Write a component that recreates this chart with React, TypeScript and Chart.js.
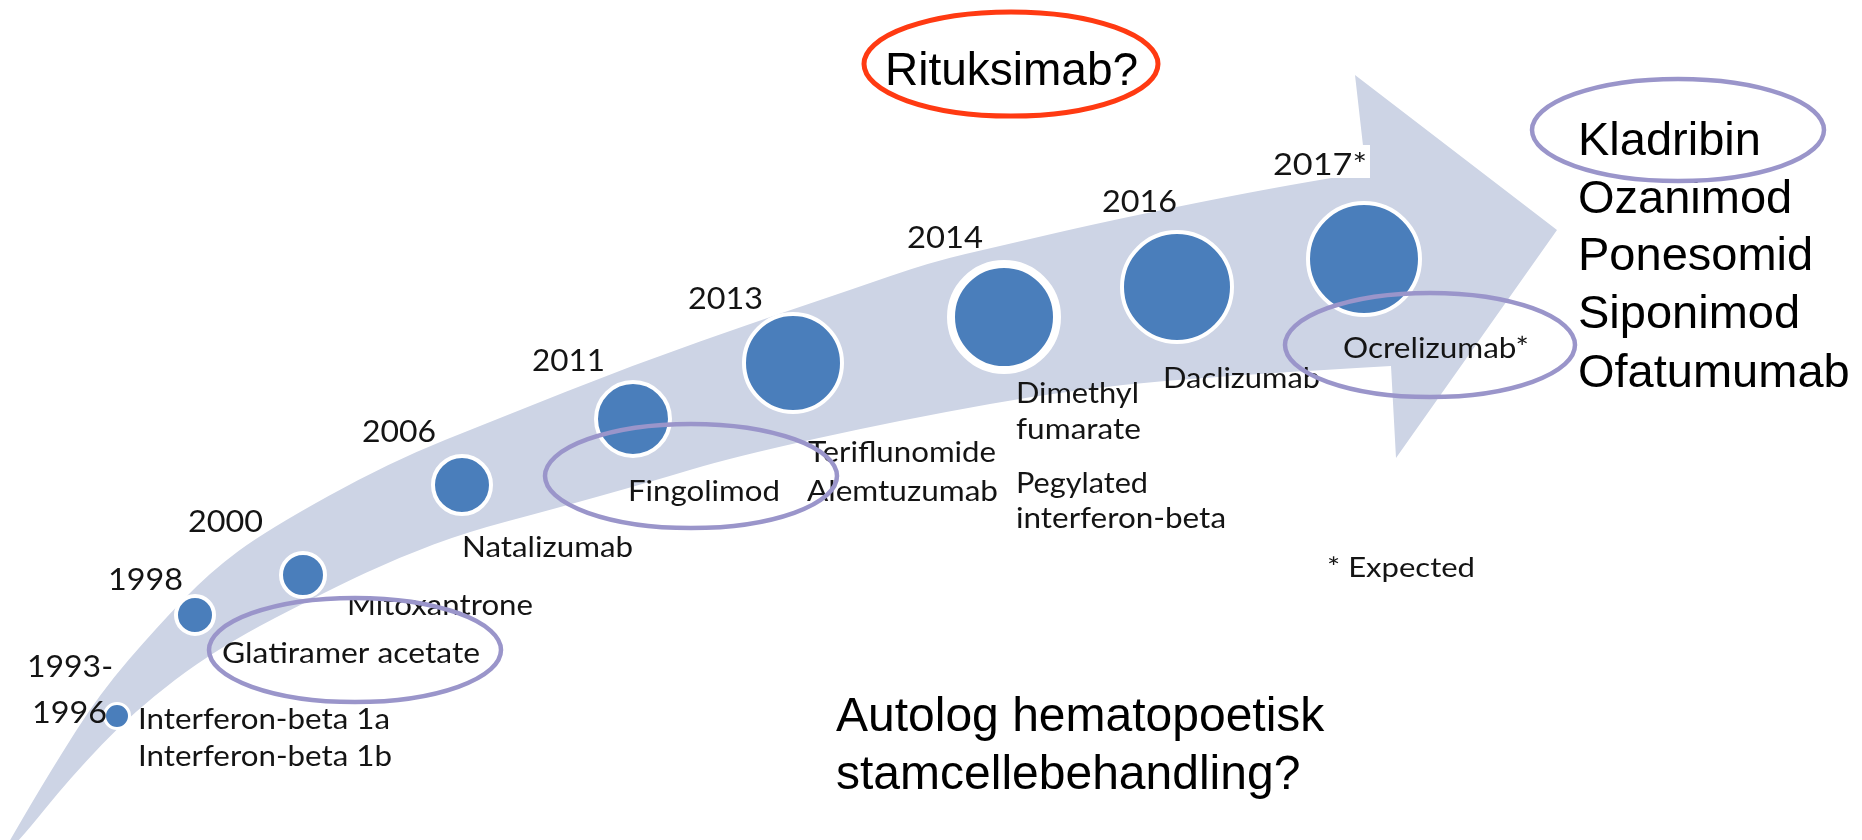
import React, { useEffect, useRef } from "react";
import { Chart, registerables } from "chart.js";

Chart.register(...registerables);

const W = 1862;
const H = 840;

// Timeline bubbles (value space = picture space of hidden axes)
const bubbleYears = ["1993-1996", "1998", "2000", "2006", "2011", "2013", "2014", "2016", "2017"];
const bubbleX = [117, 195, 303, 462, 633, 793, 1004, 1177, 1364];
const bubbleY = [716, 615, 575, 485, 419, 363, 317, 287, 259];
const bubbleR = [12.5, 19, 22, 29, 37, 49, 53, 55, 56];
const bubbleBorder = [3, 4, 4, 4, 4, 4, 8, 4, 4];

// Year labels
const yearLabels = ["1993-", "1996", "1998", "2000", "2006", "2011", "2013", "2014", "2016", "2017*"];
const yearX = [27, 32, 108, 188, 362, 532, 688, 907, 1102, 1273];
const yearY = [677, 723, 590, 532, 442, 371, 309, 248, 212, 175];
const yearW = [86, 75, 75, 75, 74, 73, 75, 76, 75, 94];

// Drug labels
const drugLabels = [
  "Interferon-beta 1a", "Interferon-beta 1b", "Glatiramer acetate", "Natalizumab",
  "Fingolimod", "Alemtuzumab", "Dimethyl", "fumarate", "Pegylated", "interferon-beta",
  "Daclizumab", "Ocrelizumab*", "* Expected",
];
const drugX = [138, 138, 222, 462, 628, 807, 1016, 1016, 1016, 1016, 1163, 1343, 1327];
const drugY = [729, 766, 663, 557, 501, 501, 403, 439, 493, 528, 388, 358, 577];
const drugW = [252, 254, 258, 171, 152, 191, 123, 125, 132, 210, 157, 186, 148];

// Labels lying under the arrow band
const underLabels = ["Mitoxantrone", "Teriflunomide"];
const underX = [347, 808];
const underY = [615, 462];
const underW = [186, 188];
const mitoxClip = [433, 600];

// Future candidates list
const futureLabels = ["Kladribin", "Ozanimod", "Ponesomid", "Siponimod", "Ofatumumab"];
const futureX = 1578;
const futureY = [155, 213, 270, 328, 387];

// Other big texts
const bigLabels = ["Rituksimab?", "Autolog hematopoetisk", "stamcellebehandling?"];
const bigX = [885, 836, 836];
const bigY = [85, 731, 789];
const bigSize = [46, 48, 48];

// Highlight ellipses
const ellipseCX = [355, 691, 1430, 1678, 1011];
const ellipseCY = [650, 476, 345, 130, 64];
const ellipseRX = [146, 146, 145, 146, 147];
const ellipseRY = [52, 52, 52, 51, 52];
const ellipseColor = ["#9A95CA", "#9A95CA", "#9A95CA", "#9A95CA", "#FF3A12"];

// Arrow band outline
const bandUpper: [number, number][] = [
  [0, 858], [10, 840], [50, 772], [100, 693], [157, 627], [210, 572], [267, 530],
  [390, 462], [500, 418], [633, 365], [767, 318], [850, 290], [931, 262],
  [1000, 246], [1103, 222], [1250, 192], [1366, 172],
];
const bandLower: [number, number][] = [
  [0, 858], [20, 840], [70, 778], [133, 712], [217, 648], [333, 588], [400, 557],
  [467, 532], [550, 510], [650, 482], [733, 457], [900, 420], [1080, 388],
  [1250, 374], [1391, 366],
];
const arrowHead: [number, number][] = [[1355, 75], [1557, 230], [1396, 458]];
const box2017 = [1268, 145, 1370, 178];

const LABEL_FONT = "Lato, 'Open Sans', sans-serif";
const ARIAL = "'Liberation Sans', Arial, sans-serif";

function drawText(ctx: CanvasRenderingContext2D, s: string, x: number, y: number, font: string, targetW?: number) {
  ctx.font = font;
  const w = ctx.measureText(s).width;
  const sx = targetW ? targetW / w : 1;
  ctx.save();
  ctx.translate(x, y);
  ctx.scale(sx, 1);
  ctx.fillText(s, 0, 0);
  ctx.restore();
}

export default function App() {
  const ref = useRef<HTMLCanvasElement | null>(null);

  useEffect(() => {
    document.body.style.margin = "0";
    document.body.style.overflow = "hidden";
    let chart: Chart | null = null;
    let cancelled = false;

    const px = (c: any, v: number) => c.scales.x.getPixelForValue(v);
    const py = (c: any, v: number) => c.scales.y.getPixelForValue(v);

    const decor = {
      id: "decor",
      beforeDatasetsDraw(c: any) {
        const ctx: CanvasRenderingContext2D = c.ctx;
        ctx.save();
        ctx.fillStyle = "#141414";
        ctx.textBaseline = "alphabetic";
        // labels under band
        underLabels.forEach((s, i) => {
          ctx.save();
          if (i === 0) {
            ctx.beginPath();
            ctx.rect(0, py(c, mitoxClip[1]), W, H);
            ctx.rect(px(c, mitoxClip[0]), 0, W, H);
            ctx.clip();
          }
          drawText(ctx, s, px(c, underX[i]), py(c, underY[i]), `28px ${LABEL_FONT}`, underW[i]);
          ctx.restore();
        });
        // band
        ctx.beginPath();
        const P = (p: [number, number]) => [px(c, p[0]), py(c, p[1])];
        const smooth = (pts: [number, number][], first: boolean) => {
          const q = pts.map(P);
          if (first) ctx.moveTo(q[0][0], q[0][1]);
          else ctx.lineTo(q[0][0], q[0][1]);
          for (let i = 1; i < q.length - 1; i++) {
            const mx = (q[i][0] + q[i + 1][0]) / 2;
            const my = (q[i][1] + q[i + 1][1]) / 2;
            ctx.quadraticCurveTo(q[i][0], q[i][1], mx, my);
          }
          ctx.lineTo(q[q.length - 1][0], q[q.length - 1][1]);
        };
        smooth(bandUpper, true);
        arrowHead.forEach((p) => {
          const q = P(p);
          ctx.lineTo(q[0], q[1]);
        });
        smooth([...bandLower].reverse(), false);
        ctx.closePath();
        ctx.fillStyle = "#CDD4E5";
        ctx.fill();
        ctx.restore();
      },
      afterDatasetsDraw(c: any) {
        const ctx: CanvasRenderingContext2D = c.ctx;
        ctx.save();
        // white box behind 2017*
        ctx.fillStyle = "#ffffff";
        ctx.fillRect(px(c, box2017[0]), py(c, box2017[1]), px(c, box2017[2]) - px(c, box2017[0]), py(c, box2017[3]) - py(c, box2017[1]));
        ctx.fillStyle = "#141414";
        ctx.textBaseline = "alphabetic";
        yearLabels.forEach((s, i) => drawText(ctx, s, px(c, yearX[i]), py(c, yearY[i]), `31px ${LABEL_FONT}`, yearW[i]));
        drugLabels.forEach((s, i) => {
          const size = s === "* Expected" ? 27 : 28;
          drawText(ctx, s, px(c, drugX[i]), py(c, drugY[i]), `${size}px ${LABEL_FONT}`, drugW[i]);
        });
        ctx.fillStyle = "#000000";
        futureLabels.forEach((s, i) => drawText(ctx, s, px(c, futureX), py(c, futureY[i]), `47px ${ARIAL}`));
        bigLabels.forEach((s, i) => drawText(ctx, s, px(c, bigX[i]), py(c, bigY[i]), `${bigSize[i]}px ${ARIAL}`));
        // ellipses
        ellipseCX.forEach((cx, i) => {
          ctx.beginPath();
          const x0 = px(c, cx);
          const y0 = py(c, ellipseCY[i]);
          const rx = px(c, cx + ellipseRX[i]) - x0;
          const ry = Math.abs(py(c, ellipseCY[i] + ellipseRY[i]) - y0);
          ctx.ellipse(x0, y0, rx, ry, 0, 0, Math.PI * 2);
          ctx.strokeStyle = ellipseColor[i];
          ctx.lineWidth = i === 4 ? 5 : 4.5;
          ctx.stroke();
        });
        ctx.restore();
      },
    };

    const build = () => {
      if (cancelled || !ref.current) return;
      chart = new Chart(ref.current, {
        type: "bubble",
        data: {
          labels: bubbleYears,
          datasets: [
            {
              data: bubbleX.map((x, i) => ({ x, y: bubbleY[i], r: bubbleR[i] })),
              backgroundColor: "#4A7EBB",
              borderColor: "#FFFFFF",
              borderWidth: (ctx: any) => bubbleBorder[ctx.dataIndex] ?? 4,
              hoverRadius: 0,
              clip: false,
            } as any,
          ],
        },
        options: {
          responsive: false,
          animation: false,
          events: [],
          layout: { padding: 0, autoPadding: false } as any,
          plugins: { legend: { display: false }, tooltip: { enabled: false } },
          scales: {
            x: { type: "linear", min: 0, max: W, display: false },
            y: { type: "linear", min: 0, max: H, reverse: true, display: false },
          },
        },
        plugins: [decor as any],
      });
    };

    const fonts = (document as any).fonts;
    if (fonts && fonts.load) {
      Promise.all([fonts.load(`28px Lato`), fonts.load(`47px 'Liberation Sans'`)])
        .catch(() => {})
        .then(build);
    } else build();

    return () => {
      cancelled = true;
      if (chart) chart.destroy();
    };
  }, []);

  return (
    <div style={{ width: W, height: H, background: "#fff" }}>
      <canvas ref={ref} width={W} height={H} style={{ display: "block" }} />
    </div>
  );
}
